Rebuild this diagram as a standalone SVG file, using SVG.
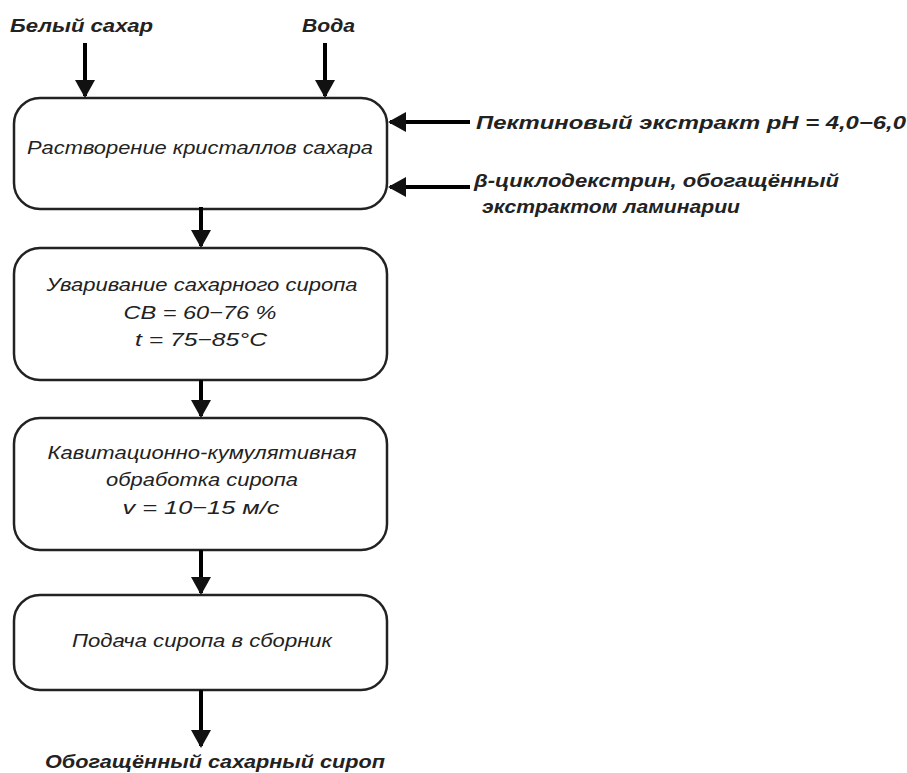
<svg xmlns="http://www.w3.org/2000/svg" width="907" height="773" viewBox="0 0 907 773">
<style>
.box{fill:#fff;stroke:#222;stroke-width:2.5}
.t{font-family:"Liberation Sans",Arial,sans-serif;font-style:italic;font-size:19px;fill:#222;text-anchor:middle}
.b{font-family:"Liberation Sans",Arial,sans-serif;font-style:italic;font-weight:bold;font-size:18.5px;fill:#222}
.c{stroke:#000;stroke-width:4;fill:none;marker-end:url(#ah)}
</style>
<defs>
<marker id="ah" markerWidth="5" markerHeight="5" refX="4" refY="2.5" orient="auto" markerUnits="strokeWidth">
<path d="M0,0 L4.5,2.5 L0,5 Z" fill="#111"/>
</marker>
</defs>
<g id="labels">
<text class="b" x="10" y="32" textLength="143" lengthAdjust="spacingAndGlyphs">Белый сахар</text>
<text class="b" x="302" y="32" textLength="53" lengthAdjust="spacingAndGlyphs">Вода</text>
<text class="b" x="476" y="129" textLength="430" lengthAdjust="spacingAndGlyphs">Пектиновый экстракт pH = 4,0−6,0</text>
<text class="b" x="474" y="187" textLength="365" lengthAdjust="spacingAndGlyphs">β-циклодекстрин, обогащённый</text>
<text class="b" x="482" y="213" textLength="258" lengthAdjust="spacingAndGlyphs">экстрактом ламинарии</text>
<text class="b" x="45" y="768" textLength="340" lengthAdjust="spacingAndGlyphs">Обогащённый сахарный сироп</text>
</g>
<g id="n1">
<rect class="box" x="14" y="98" width="373" height="111" rx="26"/>
<text class="t" x="200" y="154" textLength="346" lengthAdjust="spacingAndGlyphs">Растворение кристаллов сахара</text>
</g>
<g id="n2">
<rect class="box" x="14" y="248" width="373" height="132" rx="26"/>
<text class="t" x="202" y="291" textLength="311" lengthAdjust="spacingAndGlyphs">Уваривание сахарного сиропа</text>
<text class="t" x="200" y="319" textLength="153" lengthAdjust="spacingAndGlyphs">СВ = 60−76 %</text>
<text class="t" x="201" y="346" textLength="132" lengthAdjust="spacingAndGlyphs">t = 75−85°C</text>
</g>
<g id="n3">
<rect class="box" x="14" y="418" width="373" height="132" rx="26"/>
<text class="t" x="202" y="459" textLength="309" lengthAdjust="spacingAndGlyphs">Кавитационно-кумулятивная</text>
<text class="t" x="202" y="486" textLength="192" lengthAdjust="spacingAndGlyphs">обработка сиропа</text>
<text class="t" x="201" y="514" textLength="157" lengthAdjust="spacingAndGlyphs">v = 10−15 м/с</text>
</g>
<g id="n4">
<rect class="box" x="14" y="595" width="373" height="95" rx="26"/>
<text class="t" x="202" y="647" textLength="260" lengthAdjust="spacingAndGlyphs">Подача сиропа в сборник</text>
</g>
<g id="connectors">
<line class="c" x1="85" y1="43" x2="85" y2="96"/>
<line class="c" x1="325" y1="43" x2="325" y2="96"/>
<line class="c" x1="470" y1="122" x2="390" y2="122"/>
<line class="c" x1="470" y1="187" x2="390" y2="187"/>
<line class="c" x1="201" y1="207" x2="201" y2="246"/>
<line class="c" x1="201" y1="380" x2="201" y2="416"/>
<line class="c" x1="201" y1="550" x2="201" y2="593"/>
<line class="c" x1="201" y1="690" x2="201" y2="746"/>
</g>
</svg>
